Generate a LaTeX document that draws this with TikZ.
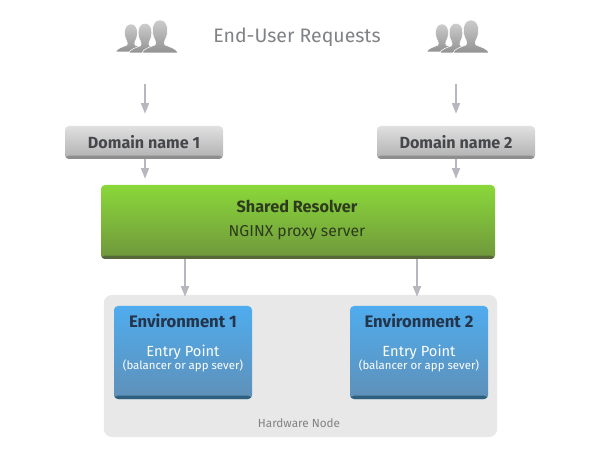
\documentclass[tikz,border=0pt]{standalone}
\usepackage{fontspec}
\usetikzlibrary{arrows.meta}
\setmainfont{Fira Sans}
\definecolor{FlowGray}{HTML}{B6B7BF}
\definecolor{TitleGray}{HTML}{808285}
\definecolor{DomainText}{HTML}{45474A}
\definecolor{ResolverText}{HTML}{2E3B1E}
\definecolor{EnvText}{HTML}{24344A}
\definecolor{HardwareGray}{HTML}{E8E8E8}
\definecolor{DomainTop}{HTML}{E0E0E0}
\definecolor{DomainLow}{HTML}{B0B0B0}
\definecolor{DomainEdge}{HTML}{8E8E8E}
\definecolor{ResolverTop}{HTML}{8AD83A}
\definecolor{ResolverLow}{HTML}{6F963C}
\definecolor{ResolverEdge}{HTML}{56683A}
\definecolor{EnvTop}{HTML}{4FACEE}
\definecolor{EnvLow}{HTML}{5F90B8}
\definecolor{EnvEdge}{HTML}{2F5F7E}
\definecolor{PersonTop}{HTML}{CCCCCC}
\definecolor{PersonLow}{HTML}{929292}
\tikzset{
  flow/.style={draw=FlowGray, line width=1.25pt, -{Triangle[width=6pt,length=8pt]}},
  panel/.style n args={3}{rounded corners=3pt, inner sep=0pt, top color=#1, bottom color=#2,
    path picture={
      \fill[#3] ([yshift=2.5pt]path picture bounding box.south west) rectangle (path picture bounding box.south east);
    }},
  domainbox/.style={panel={DomainTop}{DomainLow}{DomainEdge}, minimum width=118.5pt, minimum height=24.75pt,
    text=DomainText, font=\fontsize{12.1}{14}\selectfont\bfseries},
  resolverbox/.style={panel={ResolverTop}{ResolverLow}{ResolverEdge}, minimum width=295.5pt, minimum height=55.5pt},
  envbox/.style={panel={EnvTop}{EnvLow}{EnvEdge}, minimum width=103.5pt, minimum height=69.75pt},
  envname/.style={text=EnvText, font=\fontsize{12.5}{14}\selectfont\bfseries},
  enventry/.style={text=white, font=\fontsize{11}{13}\selectfont},
  envnote/.style={text=white, font=\fontsize{8.6}{10}\selectfont},
  person/.style={top color=PersonTop, bottom color=PersonLow, draw=white, line width=0.4pt},
  pics/personshape/.style={code={
    \path[person] (-18,0) .. controls (-17,-4) and (-10,-6) .. (-5,-8)
      .. controls (-4,-9) and (-4,-11) .. (-5,-13)
      .. controls (-9,-19) and (-9,-33) .. (0,-33)
      .. controls (9,-33) and (9,-19) .. (5,-13)
      .. controls (4,-11) and (4,-9) .. (5,-8)
      .. controls (10,-6) and (17,-4) .. (18,0) -- cycle;
  }}
}
\begin{document}
\begin{tikzpicture}[x=0.75pt, y=-0.75pt]
\useasboundingbox (0,0) rectangle (600,452);

% Users
\foreach \gx in {0,311} {
  \pic at (\gx+131,52) [scale=0.85] {personshape};
  \pic at (\gx+145,53) [scale=0.9] {personshape};
  \pic at (\gx+160,53) {personshape};
}
\node[text=TitleGray, font=\fontsize{14.6}{18}\selectfont] (title) at (297,37.5) {End-User Requests};

% Hardware node
\node[fill=HardwareGray, rounded corners=6pt, minimum width=295pt, minimum height=106.5pt, inner sep=0pt] (hardware) at (300.5,366) {};
\node[text=TitleGray, font=\fontsize{8.8}{10}\selectfont] (hardwarelabel) at (299,423) {Hardware Node};

% Domains
\node[domainbox] (domainA) at (144,142.5) {\raisebox{1.2pt}{Domain name 1}};
\node[domainbox] (domainB) at (456,142.5) {\raisebox{1.2pt}{Domain name 2}};

% Resolver
\node[resolverbox] (resolver) at (298,222) {};
\node[text=ResolverText, font=\fontsize{12.2}{14}\selectfont\bfseries] (resolvername) at (297,206) {Shared Resolver};
\node[text=ResolverText, font=\fontsize{11.8}{14}\selectfont] (resolverrole) at (297,232.5) {NGINX proxy server};

% Environments
\node[envbox] (envA) at (183,352.5) {};
\node[envname] (envAname) at (183,321) {Environment 1};
\node[enventry] (envAentry) at (183,352) {Entry Point};
\node[envnote] (envAnote) at (183,366) {(balancer or app sever)};

\node[envbox] (envB) at (419,352.5) {};
\node[envname] (envBname) at (419,321) {Environment 2};
\node[enventry] (envBentry) at (419,352) {Entry Point};
\node[envnote] (envBnote) at (419,366) {(balancer or app sever)};

% Arrows
\coordinate (usersA) at (145,84);
\coordinate (usersB) at (456,84);
\coordinate (portA) at (185,259);
\coordinate (portB) at (417,259);
\draw[flow, shorten >=9pt] (usersA) -- (usersA |- domainA.north);
\draw[flow, shorten >=9pt] (usersB) -- (usersB |- domainB.north);
\draw[flow, shorten >=4.5pt] (usersA |- domainA.south) -- (usersA |- resolver.north);
\draw[flow, shorten >=4.5pt] (usersB |- domainB.south) -- (usersB |- resolver.north);
\draw[flow, shorten >=-1.5pt] (portA) -- (portA |- hardware.north);
\draw[flow, shorten >=-1.5pt] (portB) -- (portB |- hardware.north);
\end{tikzpicture}
\end{document}
